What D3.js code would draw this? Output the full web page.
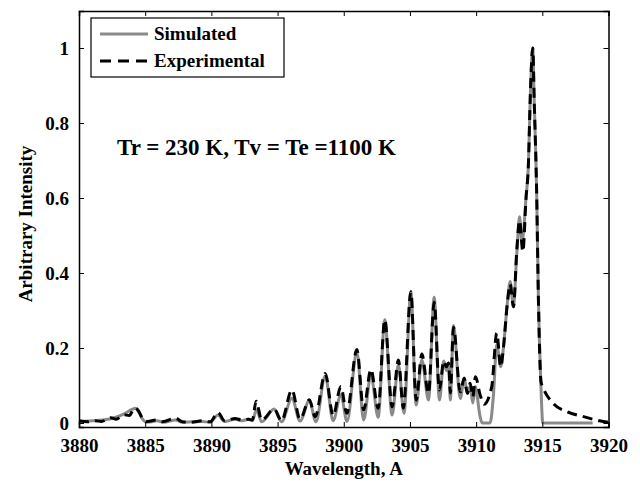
<!DOCTYPE html>
<html>
<head>
<meta charset="utf-8">
<script src="https://cdn.jsdelivr.net/npm/d3@7"></script>
<style>
  body { margin: 0; background: #fff; }
  text { font-family: "Liberation Serif", "Times New Roman", serif; font-weight: bold; }
</style>
</head>
<body>
<div id="plot"></div>
<script>
// simulated spectrum (wavelength in A, arbitrary intensity)
let simWl  = [3880.0, 3881.0, 3882.2, 3883.0, 3883.5, 3884.0, 3884.25, 3884.5, 3884.75, 3885.1,
              3885.5, 3885.9, 3886.4, 3887.3, 3887.8, 3888.5, 3889.3, 3889.9, 3890.5, 3891.0,
              3891.8, 3892.3, 3892.8, 3893.1, 3893.4, 3893.8, 3894.74, 3895.3, 3896.08, 3896.7,
              3897.4, 3897.9, 3898.6, 3899.2, 3899.78, 3900.25, 3900.99, 3901.5, 3902.05, 3902.6,
              3903.1, 3903.65, 3904.13, 3904.55, 3905.07, 3905.47, 3905.9, 3906.4, 3906.83, 3907.23,
              3907.55, 3907.75, 3907.92, 3908.05, 3908.29, 3908.8, 3909.1, 3909.34, 3909.55, 3909.75,
              3909.93, 3910.3, 3910.45, 3911.05, 3911.3, 3911.56, 3911.86, 3912.06, 3912.36, 3912.57,
              3912.82, 3913.07, 3913.28, 3913.45, 3913.77, 3913.95, 3914.1, 3914.28, 3914.38, 3914.58,
              3914.7, 3914.88, 3915.04, 3918.8];
let simVal = [0.004, 0.006, 0.010, 0.018, 0.026, 0.036, 0.039, 0.030, 0.013, 0.002,
              0.003, 0.006, 0.002, 0.008, 0.002, 0.003, 0.004, 0.002, 0.021, 0.004,
              0.010, 0.006, 0.010, 0.006, 0.035, 0.003, 0.037, 0.003, 0.066, 0.005,
              0.060, 0.003, 0.125, 0.006, 0.075, 0.004, 0.190, 0.008, 0.128, 0.015,
              0.275, 0.021, 0.155, 0.026, 0.350, 0.048, 0.168, 0.061, 0.335, 0.061,
              0.165, 0.140, 0.160, 0.061, 0.260, 0.065, 0.120, 0.080, 0.097, 0.053,
              0.097, 0.017, 0.000, 0.000, 0.070, 0.210, 0.150, 0.200, 0.320, 0.377,
              0.310, 0.450, 0.550, 0.480, 0.600, 0.690, 0.880, 1.000, 0.870, 0.600,
              0.340, 0.115, 0.000, 0.000];

// experimental spectrum
let expWl  = [3880.0, 3880.6, 3881.2, 3881.7, 3882.4, 3882.8, 3883.4, 3883.8, 3884.2, 3884.5,
              3884.8, 3885.2, 3885.8, 3886.3, 3887.3, 3887.8, 3888.5, 3889.3, 3889.9, 3890.5,
              3891.0, 3891.8, 3892.3, 3892.8, 3893.1, 3893.38, 3893.8, 3894.74, 3895.3, 3896.08,
              3896.7, 3897.4, 3897.84, 3898.6, 3899.2, 3899.78, 3900.23, 3900.99, 3901.5, 3902.05,
              3902.6, 3903.1, 3903.65, 3904.13, 3904.5, 3905.07, 3905.47, 3905.9, 3906.4, 3906.83,
              3907.23, 3907.55, 3907.75, 3907.92, 3908.05, 3908.29, 3908.8, 3909.1, 3909.34, 3909.55,
              3909.75, 3909.95, 3910.3, 3910.6, 3911.18, 3911.56, 3911.86, 3912.06, 3912.36, 3912.57,
              3912.82, 3913.07, 3913.28, 3913.53, 3913.77, 3913.95, 3914.1, 3914.28, 3914.38, 3914.58,
              3914.7, 3914.9, 3915.05, 3915.8, 3916.87, 3918.1, 3919.6, 3920.0];
let expVal = [0.006, 0.003, 0.006, 0.004, 0.014, 0.010, 0.022, 0.020, 0.040, 0.032,
              0.012, 0.004, 0.008, 0.003, 0.013, 0.003, 0.002, 0.006, 0.003, 0.028,
              0.006, 0.012, 0.008, 0.010, 0.008, 0.058, 0.008, 0.037, 0.006, 0.088,
              0.010, 0.062, 0.017, 0.132, 0.020, 0.097, 0.026, 0.196, 0.035, 0.143,
              0.039, 0.275, 0.043, 0.168, 0.040, 0.350, 0.061, 0.184, 0.079, 0.322,
              0.088, 0.165, 0.150, 0.160, 0.080, 0.255, 0.083, 0.119, 0.079, 0.106,
              0.070, 0.123, 0.075, 0.050, 0.097, 0.240, 0.150, 0.200, 0.320, 0.370,
              0.310, 0.460, 0.540, 0.457, 0.600, 0.690, 0.880, 1.000, 0.870, 0.600,
              0.340, 0.110, 0.095, 0.053, 0.030, 0.017, 0.004, 0.002];

let xTicks = [3880, 3885, 3890, 3895, 3900, 3905, 3910, 3915, 3920];
let yTicks = [0, 0.2, 0.4, 0.6, 0.8, 1];
let seriesNames = ["Simulated", "Experimental"];
let note = "Tr = 230 K, Tv = Te =1100 K";

let width = 640, height = 483;
let mLeft = 79, mRight = 608.5, mTop = 11, mBottom = 427;

let svg = d3.select("#plot").append("svg")
  .attr("width", width)
  .attr("height", height);

let x = d3.scaleLinear().domain([3880, 3920]).range([mLeft, mRight]);
let y = d3.scaleLinear().domain([-0.0107, 1.0987]).range([mBottom, mTop]);

// series
let simData = simWl.map((w, i) => [w, simVal[i]]);
let expData = expWl.map((w, i) => [w, expVal[i]]);

let line = d3.line()
  .x(d => x(d[0]))
  .y(d => y(d[1]))
  .curve(d3.curveMonotoneX);

svg.append("path")
  .datum(simData)
  .attr("fill", "none")
  .attr("stroke", "#8a8a8a")
  .attr("stroke-width", 3)
  .attr("d", line);

svg.append("path")
  .datum(expData)
  .attr("fill", "none")
  .attr("stroke", "#000")
  .attr("stroke-width", 3)
  .attr("stroke-dasharray", "10,6")
  .attr("d", line);

// axes, MATLAB style box with inward ticks
let fs = "19px";
svg.append("g")
  .attr("transform", "translate(0," + mBottom + ")")
  .call(d3.axisBottom(x).tickValues(xTicks).tickSize(-5).tickPadding(12).tickFormat(d3.format("d")))
  .call(g => g.selectAll("text").attr("font-size", fs).attr("fill", "#000"));
svg.append("g")
  .attr("transform", "translate(0," + mTop + ")")
  .call(d3.axisTop(x).tickValues(xTicks).tickSize(-5).tickFormat(""));
svg.append("g")
  .attr("transform", "translate(" + mLeft + ",0)")
  .call(d3.axisLeft(y).tickValues(yTicks).tickSize(-5).tickPadding(10).tickFormat(d3.format("~g")))
  .call(g => g.selectAll("text").attr("font-size", fs).attr("fill", "#000"));
svg.append("g")
  .attr("transform", "translate(" + mRight + ",0)")
  .call(d3.axisRight(y).tickValues(yTicks).tickSize(-5).tickFormat(""));

svg.selectAll(".domain").attr("stroke", "#000").attr("stroke-width", 1.5);
svg.selectAll(".tick line").attr("stroke", "#000");

// axis labels
svg.append("text")
  .attr("x", (mLeft + mRight) / 2)
  .attr("y", 475)
  .attr("text-anchor", "middle")
  .attr("font-size", fs)
  .text("Wavelength, A");

svg.append("text")
  .attr("transform", "translate(32,224) rotate(-90)")
  .attr("text-anchor", "middle")
  .attr("font-size", fs)
  .text("Arbitrary Intensity");

// annotation
svg.append("text")
  .attr("x", 117)
  .attr("y", 155)
  .attr("font-size", "23px")
  .text(note);

// legend
let leg = svg.append("g");
leg.append("rect")
  .attr("x", 91).attr("y", 18)
  .attr("width", 193).attr("height", 59)
  .attr("fill", "#fff")
  .attr("stroke", "#000")
  .attr("stroke-width", 1.2);
leg.append("line")
  .attr("x1", 100).attr("x2", 148).attr("y1", 34).attr("y2", 34)
  .attr("stroke", "#8a8a8a").attr("stroke-width", 3);
leg.append("line")
  .attr("x1", 100).attr("x2", 148).attr("y1", 61).attr("y2", 61)
  .attr("stroke", "#000").attr("stroke-width", 3).attr("stroke-dasharray", "11,7");
leg.selectAll("text.lab")
  .data(seriesNames)
  .enter()
  .append("text")
    .attr("class", "lab")
    .attr("x", 154)
    .attr("y", (d, i) => 40 + i * 27)
    .attr("font-size", fs)
    .text(d => d);
</script>
</body>
</html>
